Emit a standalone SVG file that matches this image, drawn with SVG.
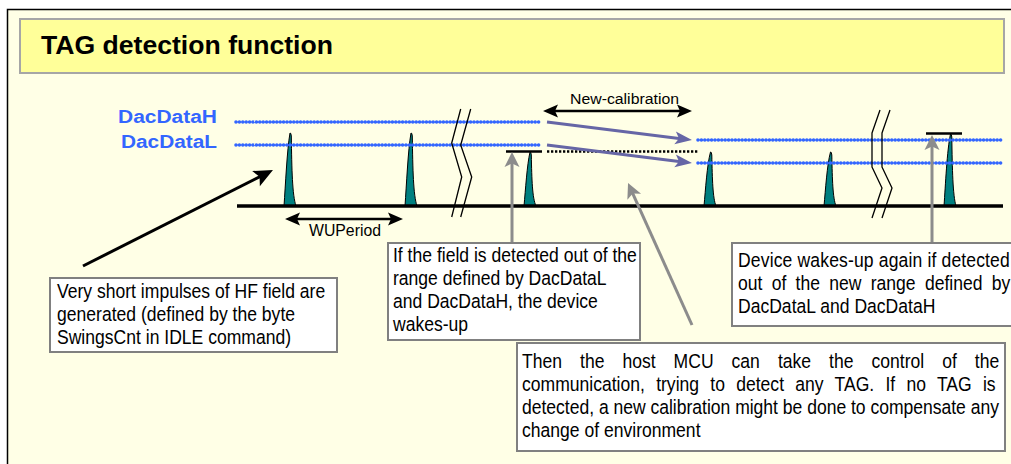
<svg xmlns="http://www.w3.org/2000/svg" width="1011" height="464" viewBox="0 0 1011 464">
<defs>
<style>
.bx{fill:#fff;stroke:#808080;stroke-width:2}
.t{font-family:"Liberation Sans",Arial,sans-serif;font-size:19.5px;fill:#000}
.lbl{font-family:"Liberation Sans",Arial,sans-serif;font-weight:bold;font-size:18px;fill:#3366FF}
.sm{font-family:"Liberation Sans",Arial,sans-serif;fill:#000}
.pulse{fill:#008080;stroke:#000;stroke-width:1}
.dot{stroke:#3366FF;stroke-width:3.6;stroke-linecap:round;stroke-dasharray:0 3.4;fill:none}
.brk{fill:none;stroke:#000;stroke-width:1.3;stroke-linejoin:round}
.ga{stroke:#8C8C8C;stroke-width:3;fill:none}
.pa{stroke:#6666A6;stroke-width:3;fill:none}
.ka{stroke:#000;stroke-width:2.5;fill:none}
</style>
<marker id="mk" viewBox="-20 -10 22 20" markerWidth="22" markerHeight="20" markerUnits="userSpaceOnUse" refX="-5" refY="0" orient="auto-start-reverse"><path d="M0,0 L-15,-6.5 L-12,0 L-15,6.5Z" fill="#000"/></marker>
<marker id="mkb" viewBox="-20 -10 22 20" markerWidth="22" markerHeight="20" markerUnits="userSpaceOnUse" refX="-5" refY="0" orient="auto"><path d="M0,0 L-19,-8.5 L-15,0 L-19,8.5Z" fill="#000"/></marker>
<marker id="mkg" viewBox="-20 -10 22 20" markerWidth="22" markerHeight="20" markerUnits="userSpaceOnUse" refX="-5" refY="0" orient="auto"><path d="M0,0 L-15,-7.5 L-11.5,0 L-15,7.5Z" fill="#8C8C8C"/></marker>
<marker id="mkp" viewBox="-20 -10 22 20" markerWidth="22" markerHeight="20" markerUnits="userSpaceOnUse" refX="-5" refY="0" orient="auto"><path d="M0,0 L-17,-6.5 L-13,0 L-17,6.5Z" fill="#6666A6"/></marker>
</defs>

<rect x="0" y="0" width="1011" height="464" fill="#fff"/>
<rect x="7.5" y="9.5" width="1004" height="455" fill="#FFFFE6"/>
<path d="M7.5,464 V9.5 H1011" stroke="#000" stroke-width="1.5" fill="none"/>

<g id="title">
<rect x="20" y="19" width="984" height="54" fill="#FFFF99" stroke="#A6A6A6" stroke-width="2"/>
<text x="41" y="54" font-family="Liberation Sans, Arial, sans-serif" font-weight="bold" font-size="26" textLength="292" lengthAdjust="spacingAndGlyphs">TAG detection function</text>
</g>

<g id="labels">
<text class="lbl" x="118" y="123" textLength="99" lengthAdjust="spacingAndGlyphs">DacDataH</text>
<text class="lbl" x="121" y="148" textLength="96" lengthAdjust="spacingAndGlyphs">DacDataL</text>
</g>

<g id="pulses">
<path class="pulse" d="M284,206 C285.5,185 287,150 290,133 Q291,132.5 291.3,136 C291.8,170 292.3,195 296,206Z"/>
<path class="pulse" d="M405,206 C406.5,185 408,150 411,133 Q412,132.5 412.3,136 C412.8,170 413.3,195 417,206Z"/>
<path class="pulse" d="M524,206 C525.5,190 527,165 530,152 Q531,151.5 531.3,155 C531.8,180 532.3,198 536,206Z"/>
<path class="pulse" d="M704,206 C705.5,190 707,165 710.5,152 Q711.5,151.5 711.8,155 C712.3,180 712.8,198 716,206Z"/>
<path class="pulse" d="M824,206 C825.5,190 827,165 830.5,152 Q831.5,151.5 831.8,155 C832.3,180 832.8,198 836,206Z"/>
<path class="pulse" d="M944,206 C945.5,185 947,150 950.5,134 Q951.5,133.5 951.8,137 C952.3,170 952.8,195 956,206Z"/>
</g>

<g id="baseline">
<line x1="237" y1="206" x2="1003" y2="206" stroke="#000" stroke-width="3.4"/>
</g>

<g id="levels">
<line class="dot" x1="236" y1="122" x2="540" y2="122"/>
<line class="dot" x1="236" y1="145" x2="540" y2="145"/>
<line class="dot" x1="698" y1="140" x2="1002" y2="140"/>
<line class="dot" x1="698" y1="163" x2="1002" y2="163"/>
<line x1="506" y1="151.5" x2="542" y2="151.5" stroke="#000" stroke-width="2.5"/>
<line x1="547" y1="151.5" x2="698" y2="151.5" stroke="#000" stroke-width="2.3" stroke-dasharray="2.3 1.7"/>
<line x1="926" y1="133.5" x2="962" y2="133.5" stroke="#000" stroke-width="2.5"/>
</g>

<g id="breaks">
<polyline class="brk" points="460.7,109 451.7,143 461.7,177 451.7,217"/>
<polyline class="brk" points="470.7,109 460.7,145 471.7,177 460.7,217"/>
<polyline class="brk" points="880,110 872,133 872,167 882,188 872,218"/>
<polyline class="brk" points="890,110 882,133 882,167 892,188 882,218"/>
</g>

<g id="connectors">
<line x1="83" y1="266" x2="268.5" y2="172.3" stroke="#000" stroke-width="3" marker-end="url(#mkb)"/>
<line class="ka" x1="290" y1="219" x2="398" y2="219" marker-start="url(#mk)" marker-end="url(#mk)"/>
<line class="ka" x1="548" y1="111" x2="687" y2="111" marker-start="url(#mk)" marker-end="url(#mk)"/>
<line class="pa" x1="547" y1="122" x2="687" y2="139.4" marker-end="url(#mkp)"/>
<line class="pa" x1="547" y1="145" x2="687" y2="162.4" marker-end="url(#mkp)"/>
<line class="ga" x1="512" y1="243" x2="512" y2="157" marker-end="url(#mkg)"/>
<line class="ga" x1="692" y1="325" x2="630.1" y2="187.6" marker-end="url(#mkg)"/>
<line class="ga" x1="932" y1="243" x2="932" y2="140" marker-end="url(#mkg)"/>
</g>

<g id="dim-labels">
<text class="sm" x="309" y="236" font-size="17" textLength="72" lengthAdjust="spacingAndGlyphs">WUPeriod</text>
<text class="sm" x="570" y="104" font-size="15.5" textLength="109" lengthAdjust="spacingAndGlyphs">New-calibration</text>
</g>

<g id="box1">
<rect class="bx" x="50" y="278" width="287" height="74"/>
<g transform="translate(57 0) scale(0.9 1)">
<text class="t" x="0" y="298">Very short impulses of HF field are</text>
<text class="t" x="0" y="321">generated (defined by the byte</text>
<text class="t" x="0" y="344">SwingsCnt in IDLE command)</text>
</g>
</g>

<g id="box2">
<rect class="bx" x="388" y="243" width="252" height="97"/>
<g transform="translate(393 0) scale(0.9 1)">
<text class="t" x="0" y="262">If the field is detected out of the</text>
<text class="t" x="0" y="285">range defined by DacDataL</text>
<text class="t" x="0" y="308">and DacDataH, the device</text>
<text class="t" x="0" y="331">wakes-up</text>
</g>
</g>

<g id="box3">
<rect class="bx" x="732" y="243" width="290" height="83"/>
<g transform="translate(738 0) scale(0.9 1)">
<text class="t" x="0" y="267" textLength="302" lengthAdjust="spacing">Device wakes-up again if detected</text>
<text class="t" x="0" y="290" word-spacing="4.9">out of the new range defined by</text>
<text class="t" x="0" y="313">DacDataL and DacDataH</text>
</g>
</g>

<g id="box4">
<rect class="bx" x="517" y="343" width="488" height="108"/>
<g transform="translate(522 0) scale(0.9 1)">
<text class="t" x="0" y="368" word-spacing="14.6">Then the host MCU can take the control of the</text>
<text class="t" x="0" y="391" word-spacing="7.1">communication, trying to detect any TAG. If no TAG is</text>
<text class="t" x="0" y="414" textLength="530" lengthAdjust="spacing">detected, a new calibration might be done to compensate any</text>
<text class="t" x="0" y="437">change of environment</text>
</g>
</g>
</svg>
